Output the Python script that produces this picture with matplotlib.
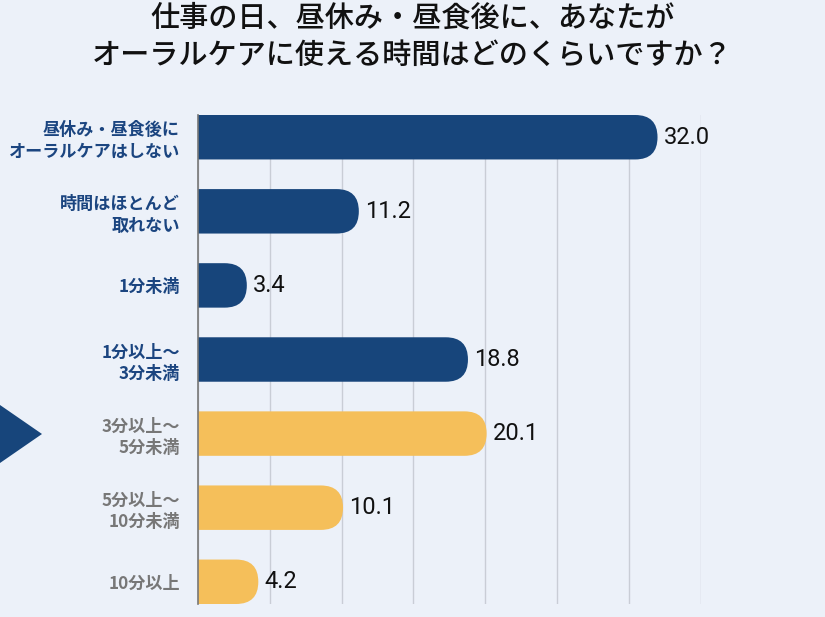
import matplotlib.pyplot as plt
from matplotlib.patches import FancyBboxPatch, Polygon

plt.rcParams['font.family'] = ['Noto Sans CJK JP', 'DejaVu Sans']

# Data
categories = ['昼休み・昼食後に\nオーラルケアはしない', '時間はほとんど\n取れない', '1分未満',
              '1分以上～\n3分未満', '3分以上～\n5分未満', '5分以上～\n10分未満', '10分以上']
values = [32.0, 11.2, 3.4, 18.8, 20.1, 10.1, 4.2]
groups = ['short', 'short', 'short', 'short', 'long', 'long', 'long']

bg = '#ecf1f9'
bar_colors = {'short': '#17457b', 'long': '#f5bf5a'}
label_colors = {'short': '#1b4580', 'long': '#777777'}

W, H = 825, 617
fig = plt.figure(figsize=(W / 100, H / 100), dpi=100, facecolor=bg)
ax = fig.add_axes([198 / W, 13 / H, 502.6 / W, 489 / H], facecolor=bg)

xmax = 35
bar_h = 0.6
n = len(values)
ax.set_xlim(0, xmax)
ax.set_ylim(n - 0.7, -0.3)

# radius of the rounded end: half bar height, in pixels and then in x units
px_per_x = 502.6 / xmax
px_per_y = 489 / (n - 0.4)
r_px = bar_h / 2 * px_per_y
r_x = r_px / px_per_x
aspect = (bar_h / 2) / r_x

for i, (v, g) in enumerate(zip(values, groups)):
    patch = FancyBboxPatch((-r_x * 2, i - bar_h / 2), v + r_x * 2, bar_h,
                           boxstyle=f'round,pad=0,rounding_size={r_x}',
                           mutation_aspect=aspect, facecolor=bar_colors[g],
                           edgecolor='none', zorder=3)
    ax.add_patch(patch)
    ax.annotate(f'{v:.1f}', (v, i), xytext=(4.5, 0), textcoords='offset points',
                ha='left', va='center', fontsize=17, color='#111111',
                family=['Roboto', 'DejaVu Sans'], zorder=4, annotation_clip=False)

ax.set_xticks(range(0, xmax + 1, 5))
ax.grid(axis='x', color='#c9cdd6', linewidth=1.0, zorder=1)
ax.tick_params(axis='x', length=0, labelbottom=False)
ax.set_yticks(range(n))
ax.set_yticklabels(categories, fontsize=12.3, fontweight='bold', linespacing=1.25)
ax.tick_params(axis='y', length=0, pad=13)
for lbl, g in zip(ax.get_yticklabels(), groups):
    lbl.set_color(label_colors[g])

for s in ['top', 'right', 'bottom']:
    ax.spines[s].set_visible(False)
ax.spines['left'].set_color('#777777')
ax.spines['left'].set_linewidth(1.2)
ax.spines['left'].set_zorder(5)

fig.text(0.5, 1 - 37 / H, '仕事の日、昼休み・昼食後に、あなたが\nオーラルケアに使える時間はどのくらいですか？',
         ha='center', va='center', fontsize=21, fontweight='medium',
         color='#111111', linespacing=1.28)

# pointer triangle on the left
tri = Polygon([(0, 1 - 405 / H), (42 / W, 1 - 434 / H), (0, 1 - 463 / H)],
              closed=True, transform=fig.transFigure, facecolor='#17457b',
              edgecolor='none')
fig.patches.append(tri)

fig.savefig('out.png', dpi=100, facecolor=bg)
